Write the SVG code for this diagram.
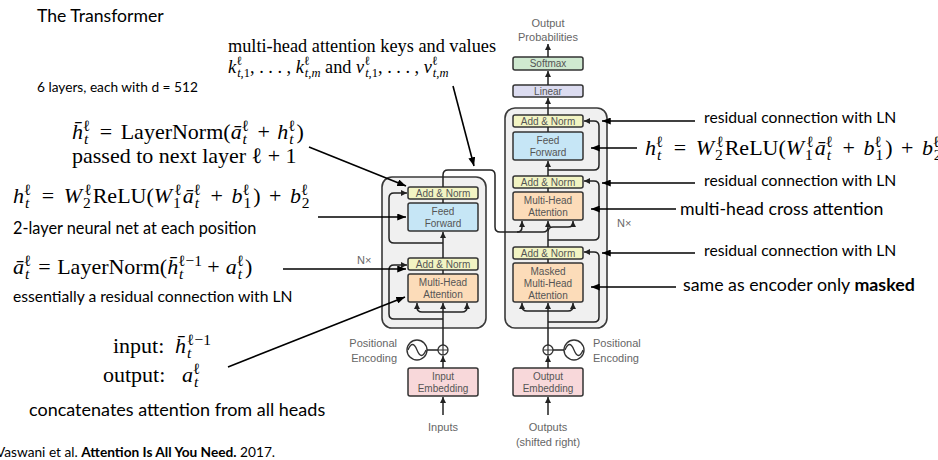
<svg xmlns="http://www.w3.org/2000/svg" width="938" height="460" viewBox="0 0 938 460">
<style>
.outer{fill:#f0f0f0;stroke:#3a3a3a;stroke-width:1.6}
.blk{stroke:#333;stroke-width:1.5}
.an{fill:#f2f4c3}.ff{fill:#c6e6f6}.mha{fill:#fcdcb9}.emb{fill:#f8d8da}.lin{fill:#dcdcf0}.sm{fill:#cfe9d0}
.bt{font-family:"Liberation Sans",Arial,sans-serif;font-size:10px;fill:#555;text-anchor:middle}
.lt{font-family:"Liberation Sans",Arial,sans-serif;font-size:11px;fill:#666}
.w{fill:none;stroke:#222;stroke-width:1.5}
.a{fill:none;stroke:#000;stroke-width:1.6}
.m{font-family:"Liberation Serif","DejaVu Serif",serif;font-size:22px;fill:#000}
.mt{font-size:18.3px}
.i{font-style:italic}
.s{font-size:15.5px}
.s2{font-size:12.5px}
.c{font-family:Lato,"Open Sans",sans-serif;fill:#000}
</style>
<defs>
<marker id="ah" viewBox="0 0 6 6" refX="6" refY="3" markerWidth="6" markerHeight="6" markerUnits="userSpaceOnUse" orient="auto"><path d="M0,0 L6,3 L0,6 z" fill="#222"/></marker>
<marker id="aa" viewBox="0 0 10 8" refX="10" refY="4" markerWidth="9" markerHeight="7" markerUnits="userSpaceOnUse" orient="auto"><path d="M0,0 L10,4 L0,8 z" fill="#000"/></marker>
</defs>
<rect width="938" height="460" fill="#fff"/>

<!-- outer stacks -->
<g id="encoder-stack"><rect class="outer" x="382" y="177" width="104" height="151" rx="10"/><text class="lt" x="357" y="264">N×</text></g>
<g id="decoder-stack"><rect class="outer" x="505" y="108" width="102" height="220" rx="10"/><text class="lt" x="617" y="227">N×</text></g>

<!-- encoder nodes -->
<g id="enc-addnorm2"><rect class="blk an" x="408" y="187" width="70" height="12" rx="2"/><text class="bt" x="443" y="197">Add &amp; Norm</text></g>
<g id="enc-ff"><rect class="blk ff" x="408" y="203" width="70" height="28" rx="2"/><text class="bt" x="443" y="215">Feed</text><text class="bt" x="443" y="227">Forward</text></g>
<g id="enc-addnorm1"><rect class="blk an" x="408" y="258" width="70" height="12" rx="2"/><text class="bt" x="443" y="268">Add &amp; Norm</text></g>
<g id="enc-mha"><rect class="blk mha" x="408" y="274" width="70" height="28" rx="2"/><text class="bt" x="443" y="286">Multi-Head</text><text class="bt" x="443" y="298">Attention</text></g>
<g id="enc-emb"><rect class="blk emb" x="408" y="368" width="70" height="28" rx="2"/><text class="bt" x="443" y="380">Input</text><text class="bt" x="443" y="392">Embedding</text></g>
<g id="enc-pe"><circle cx="417" cy="350" r="10" fill="#fff" stroke="#333" stroke-width="1.4"/><path d="M408,350 Q412.5,339 417,350 Q421.5,361 426,350" fill="none" stroke="#333" stroke-width="1.3"/><text class="lt" x="397" y="347" text-anchor="end">Positional</text><text class="lt" x="397" y="362" text-anchor="end">Encoding</text></g>
<g id="enc-plus"><circle cx="443" cy="350" r="5" fill="#fff" stroke="#333" stroke-width="1.3"/><path d="M438,350 H448 M443,345 V355" stroke="#333" stroke-width="1.2"/></g>
<g id="inputs"><text class="lt" x="443" y="431" text-anchor="middle">Inputs</text></g>

<!-- decoder nodes -->
<g id="dec-addnorm3"><rect class="blk an" x="513" y="115" width="70" height="12" rx="2"/><text class="bt" x="548" y="125">Add &amp; Norm</text></g>
<g id="dec-ff"><rect class="blk ff" x="513" y="132" width="70" height="28" rx="2"/><text class="bt" x="548" y="144">Feed</text><text class="bt" x="548" y="156">Forward</text></g>
<g id="dec-addnorm2"><rect class="blk an" x="513" y="176" width="70" height="12" rx="2"/><text class="bt" x="548" y="186">Add &amp; Norm</text></g>
<g id="dec-mha"><rect class="blk mha" x="513" y="192" width="70" height="28" rx="2"/><text class="bt" x="548" y="204">Multi-Head</text><text class="bt" x="548" y="216">Attention</text></g>
<g id="dec-addnorm1"><rect class="blk an" x="513" y="247" width="70" height="12" rx="2"/><text class="bt" x="548" y="257">Add &amp; Norm</text></g>
<g id="dec-mmha"><rect class="blk mha" x="513" y="263" width="70" height="39" rx="2"/><text class="bt" x="548" y="275">Masked</text><text class="bt" x="548" y="287">Multi-Head</text><text class="bt" x="548" y="299">Attention</text></g>
<g id="dec-emb"><rect class="blk emb" x="513" y="368" width="70" height="28" rx="2"/><text class="bt" x="548" y="380">Output</text><text class="bt" x="548" y="392">Embedding</text></g>
<g id="dec-pe"><circle cx="574" cy="350" r="10" fill="#fff" stroke="#333" stroke-width="1.4"/><path d="M565,350 Q569.5,339 574,350 Q578.5,361 583,350" fill="none" stroke="#333" stroke-width="1.3"/><text class="lt" x="593" y="347">Positional</text><text class="lt" x="593" y="362">Encoding</text></g>
<g id="dec-plus"><circle cx="548" cy="350" r="5" fill="#fff" stroke="#333" stroke-width="1.3"/><path d="M543,350 H553 M548,345 V355" stroke="#333" stroke-width="1.2"/></g>
<g id="outputs"><text class="lt" x="548" y="431" text-anchor="middle">Outputs</text><text class="lt" x="548" y="446" text-anchor="middle">(shifted right)</text></g>
<g id="linear"><rect class="blk lin" x="513" y="85" width="70" height="12" rx="2"/><text class="bt" x="548" y="95">Linear</text></g>
<g id="softmax"><rect class="blk sm" x="513" y="57" width="70" height="13" rx="2"/><text class="bt" x="548" y="67">Softmax</text></g>
<g id="out-prob"><text class="lt" x="548" y="27" text-anchor="middle">Output</text><text class="lt" x="548" y="41" text-anchor="middle">Probabilities</text></g>

<!-- connectors -->
<g id="connectors">
<g class="w">
<path d="M443,415 V397" marker-end="url(#ah)"/>
<path d="M443,368 V356" marker-end="url(#ah)"/>
<path d="M427,350 H438"/>
<path d="M443,345 V303" marker-end="url(#ah)"/>
<path d="M443,312 H422 Q417,312 417,307 V303" marker-end="url(#ah)"/>
<path d="M443,312 H462 Q467,312 467,307 V303" marker-end="url(#ah)"/>
<path d="M443,319 H394 Q389,319 389,314 V270 Q389,265 394,265 H407" marker-end="url(#ah)"/>
<path d="M443,274 V270"/>
<path d="M443,258 V232" marker-end="url(#ah)"/>
<path d="M443,243 H394 Q389,243 389,238 V198 Q389,193 394,193 H407" marker-end="url(#ah)"/>
<path d="M443,203 V199"/>
<path d="M443,187 V175 Q443,170 448,170 H490 Q495,170 495,175 V227 Q495,232 500,232 H543 Q548,232 548,227 V221" marker-end="url(#ah)"/>
<path d="M517,232 Q522,232 522,227 V221" marker-end="url(#ah)"/>

<path d="M548,415 V397" marker-end="url(#ah)"/>
<path d="M548,368 V356" marker-end="url(#ah)"/>
<path d="M553,350 H564"/>
<path d="M548,345 V303" marker-end="url(#ah)"/>
<path d="M548,311 H527 Q522,311 522,306 V303" marker-end="url(#ah)"/>
<path d="M548,311 H568 Q573,311 573,306 V303" marker-end="url(#ah)"/>
<path d="M548,322 H594 Q599,322 599,317 V257 Q599,252 594,252 H584" marker-end="url(#ah)"/>
<path d="M548,263 V259"/>
<path d="M548,247 V232 Q548,227 553,227 H568 Q573,227 573,224 V221" marker-end="url(#ah)"/>
<path d="M548,240 H594 Q599,240 599,235 V186 Q599,181 594,181 H584" marker-end="url(#ah)"/>
<path d="M548,192 V188"/>
<path d="M548,176 V161" marker-end="url(#ah)"/>
<path d="M548,170 H594 Q599,170 599,165 V126 Q599,121 594,121 H584" marker-end="url(#ah)"/>
<path d="M548,132 V127"/>
<path d="M548,115 V98" marker-end="url(#ah)"/>
<path d="M548,85 V71" marker-end="url(#ah)"/>
<path d="M548,57 V44" marker-end="url(#ah)"/>
</g>
<g class="a">
<path d="M453,86 L474,166" marker-end="url(#aa)"/>
<path d="M309,147 L406,186" marker-end="url(#aa)"/>
<path d="M318,217 H406" marker-end="url(#aa)"/>
<path d="M283,269 H406" marker-end="url(#aa)"/>
<path d="M228,367 L405,297" marker-end="url(#aa)"/>
<path d="M695,121 H602" marker-end="url(#aa)"/>
<path d="M637,148 H591" marker-end="url(#aa)"/>
<path d="M695,183 H602" marker-end="url(#aa)"/>
<path d="M676,209 H591" marker-end="url(#aa)"/>
<path d="M695,253 H602" marker-end="url(#aa)"/>
<path d="M676,287 H591" marker-end="url(#aa)"/>
</g>
</g>

<!-- annotations -->
<g id="title"><text class="c" x="37" y="22" font-size="17.6">The Transformer</text></g>
<g id="layers"><text class="c" x="37" y="92" font-size="13.7">6 layers, each with d = 512</text></g>

<g id="kv-note">
<text class="m mt" x="228" y="52">multi-head attention keys and values</text>
<text class="m mt" x="228" y="73"><tspan class="i">k</tspan><tspan class="s2" dy="-8">ℓ</tspan><tspan class="s2" dx="-5" dy="12"><tspan class="i">t</tspan>,1</tspan><tspan dy="-4">, . . . , </tspan><tspan class="i">k</tspan><tspan class="s2" dy="-8">ℓ</tspan><tspan class="s2" dx="-5" dy="12"><tspan class="i">t</tspan>,<tspan class="i">m</tspan></tspan><tspan dy="-4"> and </tspan><tspan class="i">v</tspan><tspan class="s2" dy="-8">ℓ</tspan><tspan class="s2" dx="-5" dy="12"><tspan class="i">t</tspan>,1</tspan><tspan dy="-4">, . . . , </tspan><tspan class="i">v</tspan><tspan class="s2" dy="-8">ℓ</tspan><tspan class="s2" dx="-5" dy="12"><tspan class="i">t</tspan>,<tspan class="i">m</tspan></tspan></text>
</g>

<g id="hbar-note">
<text class="m" x="72" y="139"><tspan class="i">h̄</tspan><tspan class="s" dy="-8">ℓ</tspan><tspan class="s i" dx="-6.5" dy="13">t</tspan><tspan dx="11.5" dy="-5">=</tspan><tspan dx="8.5">LayerNorm(</tspan><tspan class="i">ā</tspan><tspan class="s" dy="-8">ℓ</tspan><tspan class="s i" dx="-6.5" dy="13">t</tspan><tspan dx="10.5" dy="-5">+</tspan><tspan class="i" dx="7.5">h</tspan><tspan class="s" dy="-8">ℓ</tspan><tspan class="s i" dx="-6.5" dy="13">t</tspan><tspan dx="3" dy="-5">)</tspan></text>
<text class="m" x="72" y="163" font-size="21.5">passed to next layer ℓ + 1</text>
</g>

<g id="ffn-note">
<text class="m" x="13" y="203"><tspan class="i">h</tspan><tspan class="s" dy="-8">ℓ</tspan><tspan class="s i" dx="-6.5" dy="13">t</tspan><tspan dx="12.5" dy="-5">=</tspan><tspan class="i" dx="9.5">W</tspan><tspan class="s" dx="2.5" dy="-8">ℓ</tspan><tspan class="s" dx="-9" dy="13">2</tspan><tspan dx="2" dy="-5">ReLU(</tspan><tspan class="i">W</tspan><tspan class="s" dx="2.5" dy="-8">ℓ</tspan><tspan class="s" dx="-9" dy="13">1</tspan><tspan class="i" dx="2" dy="-5">ā</tspan><tspan class="s" dy="-8">ℓ</tspan><tspan class="s i" dx="-6.5" dy="13">t</tspan><tspan dx="11.5" dy="-5">+</tspan><tspan class="i" dx="8.5">b</tspan><tspan class="s" dy="-8">ℓ</tspan><tspan class="s" dx="-6.5" dy="13">1</tspan><tspan dx="2" dy="-5">)</tspan><tspan dx="8.5">+</tspan><tspan class="i" dx="8.5">b</tspan><tspan class="s" dy="-8">ℓ</tspan><tspan class="s" dx="-6.5" dy="13">2</tspan></text>
<text class="c" x="13" y="234" font-size="16.3">2-layer neural net at each position</text>
</g>

<g id="abar-note">
<text class="m" x="13" y="274"><tspan class="i">ā</tspan><tspan class="s" dy="-8">ℓ</tspan><tspan class="s i" dx="-6.5" dy="13">t</tspan><tspan dx="9" dy="-5">=</tspan><tspan dx="6.5">LayerNorm(</tspan><tspan class="i">h̄</tspan><tspan class="s" dy="-8">ℓ−1</tspan><tspan class="s i" dx="-23" dy="13">t</tspan><tspan dx="24" dy="-5">+</tspan><tspan class="i" dx="6">a</tspan><tspan class="s" dy="-8">ℓ</tspan><tspan class="s i" dx="-6.5" dy="13">t</tspan><tspan dx="3" dy="-5">)</tspan></text>
<text class="c" x="13" y="302" font-size="15.7">essentially a residual connection with LN</text>
</g>

<g id="mha-note">
<text class="m" x="113" y="353">input:<tspan class="i" x="175">h̄</tspan><tspan class="s" dx="1" dy="-8">ℓ−1</tspan><tspan class="s i" dx="-24" dy="13">t</tspan></text>
<text class="m" x="103" y="382">output:<tspan class="i" x="182">a</tspan><tspan class="s" dy="-8">ℓ</tspan><tspan class="s i" dx="-6.5" dy="13">t</tspan></text>
<text class="c" x="29" y="416" font-size="18">concatenates attention from all heads</text>
</g>

<g id="citation"><text class="c" x="-4" y="457" font-size="13.7">Vaswani et al. <tspan font-weight="bold">Attention Is All You Need.</tspan> 2017.</text></g>

<g id="right-notes">
<text class="c" x="704" y="123" font-size="15.7">residual connection with LN</text>
<text class="m" x="645" y="155"><tspan class="i">h</tspan><tspan class="s" dy="-8">ℓ</tspan><tspan class="s i" dx="-6.5" dy="13">t</tspan><tspan dx="12.5" dy="-5">=</tspan><tspan class="i" dx="9.5">W</tspan><tspan class="s" dx="2.5" dy="-8">ℓ</tspan><tspan class="s" dx="-9" dy="13">2</tspan><tspan dx="2" dy="-5">ReLU(</tspan><tspan class="i">W</tspan><tspan class="s" dx="2.5" dy="-8">ℓ</tspan><tspan class="s" dx="-9" dy="13">1</tspan><tspan class="i" dx="2" dy="-5">ā</tspan><tspan class="s" dy="-8">ℓ</tspan><tspan class="s i" dx="-6.5" dy="13">t</tspan><tspan dx="11.5" dy="-5">+</tspan><tspan class="i" dx="8.5">b</tspan><tspan class="s" dy="-8">ℓ</tspan><tspan class="s" dx="-6.5" dy="13">1</tspan><tspan dx="2" dy="-5">)</tspan><tspan dx="8.5">+</tspan><tspan class="i" dx="8.5">b</tspan><tspan class="s" dy="-8">ℓ</tspan><tspan class="s" dx="-6.5" dy="13">2</tspan></text>
<text class="c" x="704" y="186" font-size="15.7">residual connection with LN</text>
<text class="c" x="680" y="215" font-size="17.7">multi-head cross attention</text>
<text class="c" x="704" y="256" font-size="15.7">residual connection with LN</text>
<text class="c" x="683" y="291" font-size="17.8">same as encoder only <tspan font-weight="bold">masked</tspan></text>
</g>
</svg>
